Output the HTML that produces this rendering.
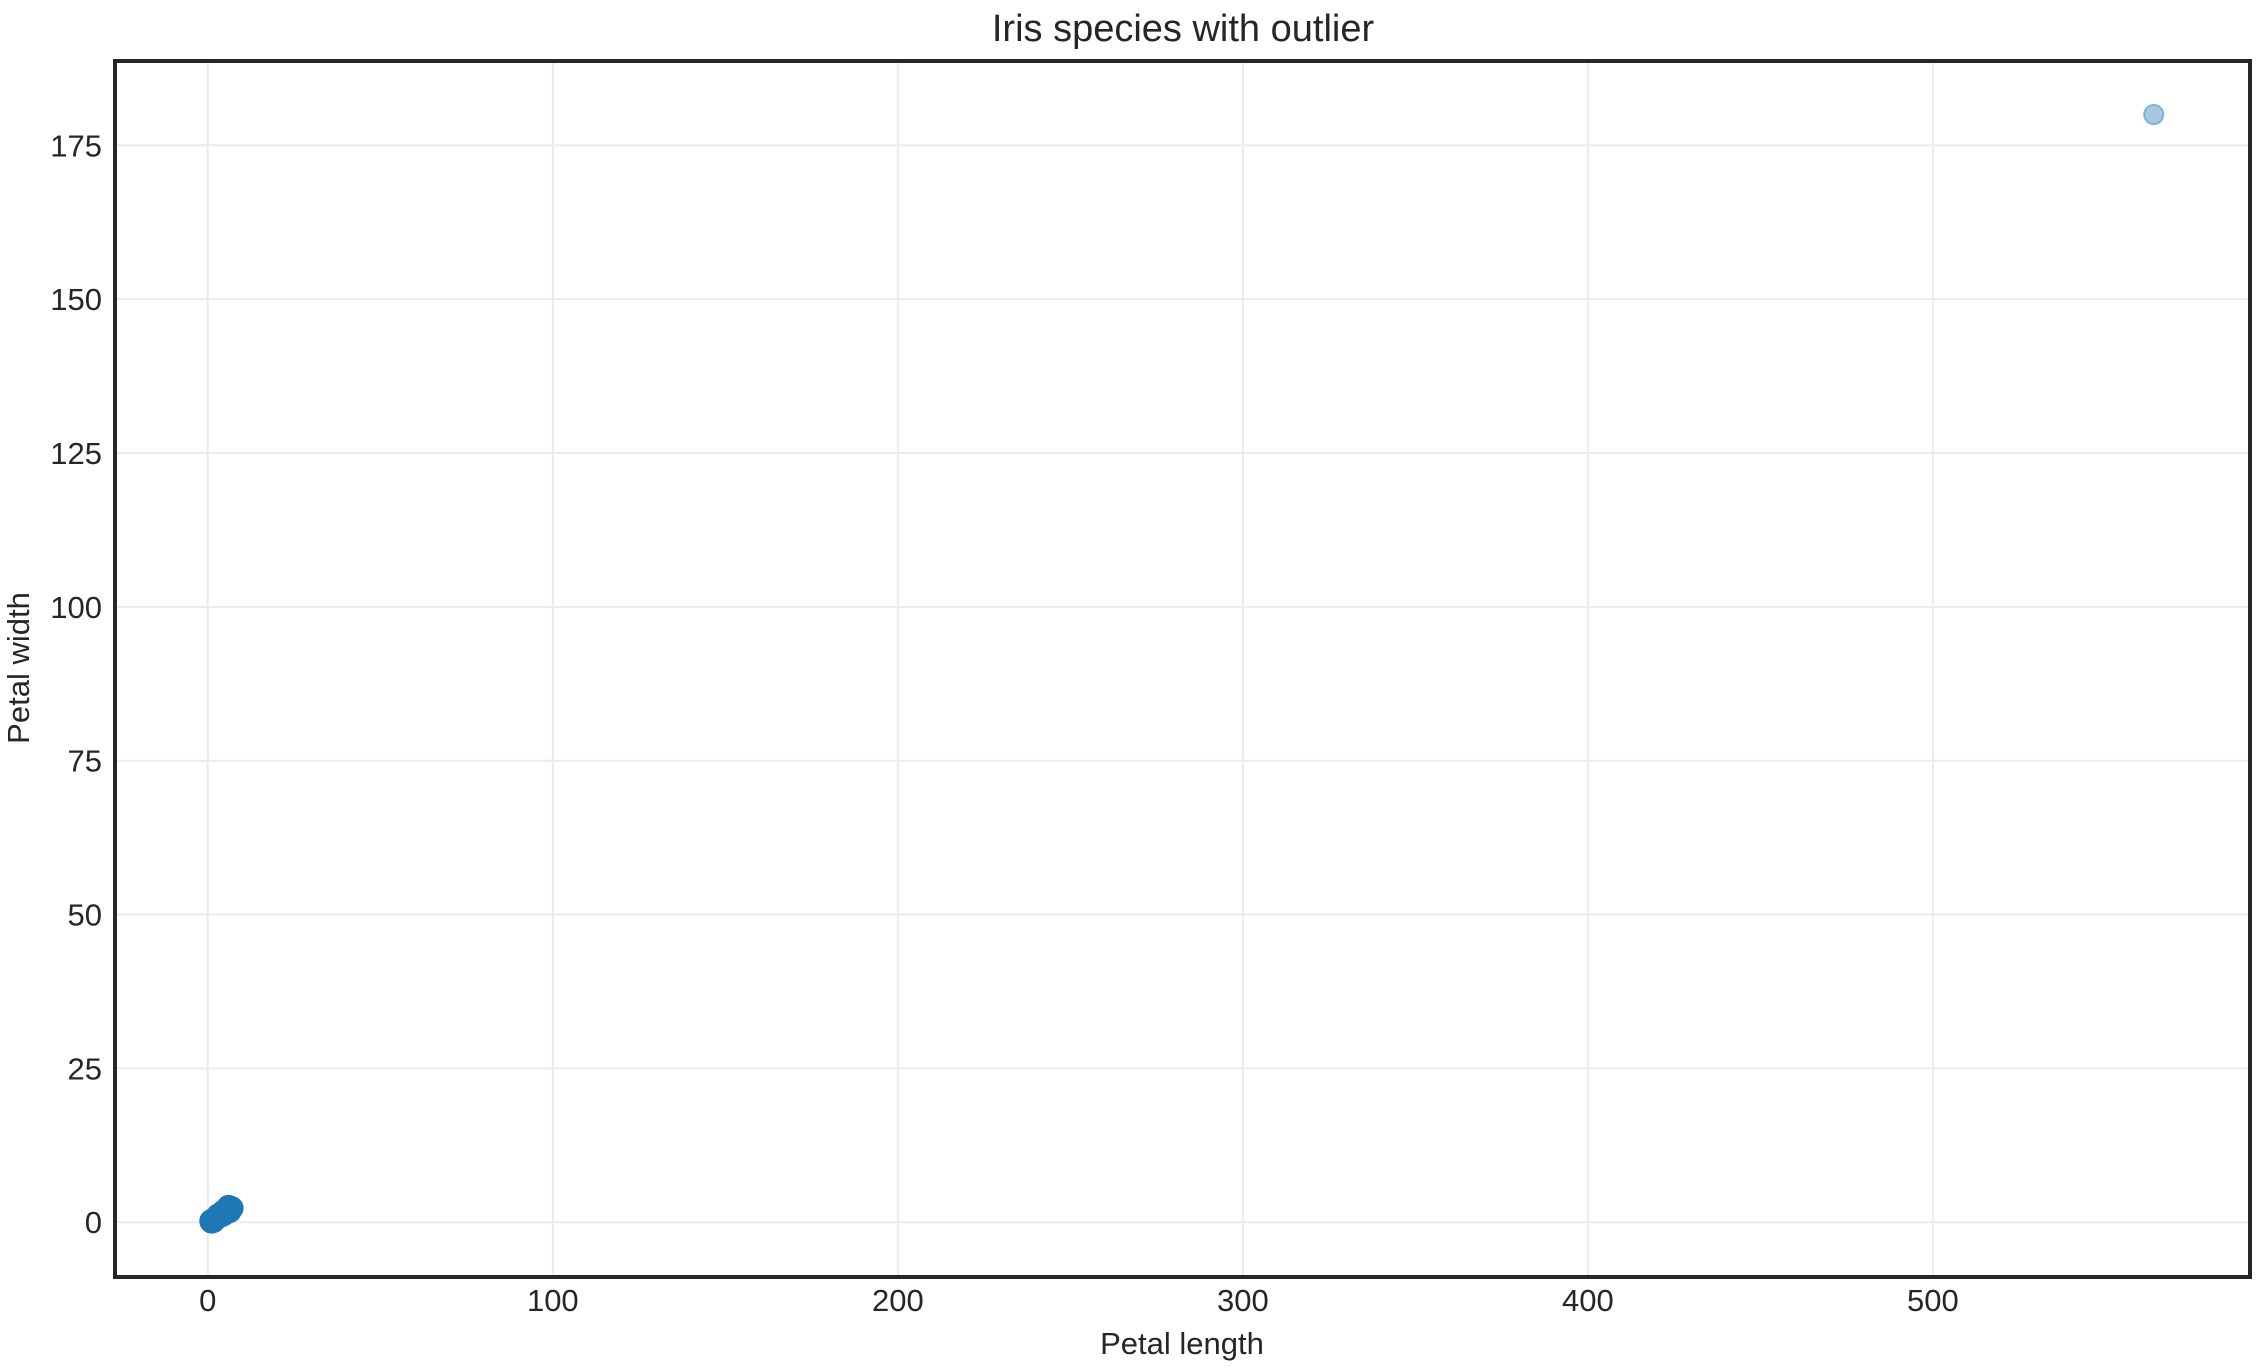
<!DOCTYPE html>
<html><head><meta charset="utf-8"><style>
body{margin:0;background:#fff}
svg{display:block;font-family:"Liberation Sans",sans-serif}
</style></head><body>
<svg id="chart" width="2262" height="1370"></svg>
<script>
const xTicks=[0,100,200,300,400,500];
const yTicks=[0,25,50,75,100,125,150,175];
const petalLength=[1.4,1.3,1.5,1.7,1.6,1.1,1.2,1.9,1.0,4.7,4.5,4.9,4.0,4.6,3.3,3.9,3.5,4.2,3.0,5.1,6.0,5.9,5.6,5.8,6.6,4.5,6.3,6.1,6.7,6.9,5.0,4.8];
const petalWidth=[0.2,0.2,0.2,0.4,0.2,0.1,0.2,0.4,0.2,1.4,1.5,1.5,1.3,1.3,1.0,1.4,1.0,1.5,1.1,1.9,2.5,2.1,1.8,2.2,2.1,1.7,1.8,2.3,2.2,2.3,1.5,1.8];
const outlierX=[564];
const outlierY=[180];
const L=115,R=2250,T=61,B=1277;
const xMin=-26.9,xMax=591.9,yMin=-8.9,yMax=188.7;
const sx=v=>L+(v-xMin)/(xMax-xMin)*(R-L);
const sy=v=>B-(v-yMin)/(yMax-yMin)*(B-T);
const svg=document.getElementById('chart');
const NS='http://www.w3.org/2000/svg';
function mk(tag,attrs,parent){const e=document.createElementNS(NS,tag);for(const k in attrs)e.setAttribute(k,attrs[k]);(parent||svg).appendChild(e);return e;}
xTicks.forEach(v=>{
  const g=mk('line',{x1:sx(v),x2:sx(v),y1:T,y2:B,stroke:'#ebebeb','stroke-width':2});
  
  
  const t=mk('text',{x:sx(v),y:1311,'text-anchor':'middle','font-size':31,fill:'#262626'});
  t.textContent=v;
  
  
});
yTicks.forEach(v=>{
  const g=mk('line',{x1:L,x2:R,y1:sy(v),y2:sy(v),stroke:'#ebebeb','stroke-width':2});
  
  
  const t=mk('text',{x:102,y:sy(v)+11,'text-anchor':'end','font-size':31,fill:'#262626'});
  t.textContent=v;
  
  
});
petalLength.forEach((v,i)=>{
  const c=mk('circle',{cx:sx(v),cy:sy(petalWidth[i]),r:12,fill:'#1f77b4'});
  
  
});
outlierX.forEach((v,i)=>{
  const c=mk('circle',{cx:sx(v),cy:sy(outlierY[i]),r:9.5,fill:'#a6c8e3',stroke:'#7fb0d8','stroke-width':2});
  
  
});
const f=mk('rect',{x:L,y:T,width:R-L,height:B-T,fill:'none',stroke:'#262626','stroke-width':4});


const ti=mk('text',{x:1183,y:41,'text-anchor':'middle','font-size':38,fill:'#262626'});
ti.textContent='Iris species with outlier';


const xl=mk('text',{x:1182,y:1354,'text-anchor':'middle','font-size':31,fill:'#262626'});
xl.textContent='Petal length';


const yl=mk('text',{x:29,y:668,'text-anchor':'middle','font-size':31,fill:'#262626',transform:'rotate(-90 29 668)'});
yl.textContent='Petal width';


</script>
</body></html>
